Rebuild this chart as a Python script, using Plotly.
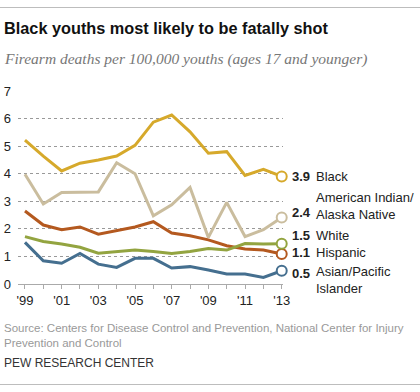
import plotly.graph_objects as go

years = list(range(1999, 2014))
tick_labels = ["'99", "", "'01", "", "'03", "", "'05", "", "'07", "", "'09", "", "'11", "", "'13"]

black = [5.22, 4.64, 4.10, 4.38, 4.50, 4.64, 5.03, 5.87, 6.13, 5.52, 4.74, 4.80, 3.94, 4.16, 3.9]
aian = [3.98, 2.90, 3.32, 3.34, 3.34, 4.40, 4.00, 2.47, 2.87, 3.50, 1.69, 2.96, 1.72, 1.97, 2.41]
white = [1.72, 1.54, 1.45, 1.33, 1.12, 1.18, 1.23, 1.18, 1.11, 1.18, 1.29, 1.23, 1.47, 1.45, 1.46]
hispanic = [2.65, 2.14, 1.97, 2.07, 1.81, 1.93, 2.07, 2.26, 1.85, 1.75, 1.60, 1.39, 1.27, 1.23, 1.09]
asian = [1.51, 0.84, 0.75, 1.11, 0.72, 0.60, 0.93, 0.93, 0.58, 0.63, 0.51, 0.36, 0.36, 0.24, 0.48]

series_names = ["Black", "American Indian/<br>Alaska Native", "White", "Hispanic", "Asian/Pacific<br>Islander"]
series_values = [black, aian, white, hispanic, asian]
end_labels = ["3.9", "2.4", "1.5", "1.1", "0.5"]
label_y = [3.9, 2.58, 1.75, 1.13, 0.38]
name_y = [3.9, 2.82, 1.75, 1.13, 0.14]
colors = ["#d6a92b", "#cabd9e", "#93a440", "#b4591f", "#456f8f"]

fig = go.Figure()
draw_order = [1, 0, 3, 2, 4]
for i in draw_order:
    vals = series_values[i]
    fig.add_trace(go.Scatter(
        x=years, y=vals, mode="lines",
        line=dict(color=colors[i], width=3),
        hoverinfo="skip", showlegend=False, cliponaxis=False))
    fig.add_trace(go.Scatter(
        x=[years[-1]], y=[vals[-1]], mode="markers",
        marker=dict(symbol="circle", size=10, color="white",
                    line=dict(color=colors[i], width=2)),
        hoverinfo="skip", showlegend=False, cliponaxis=False))

L, T, W, H = 18, 91, 265, 193
def px(x):
    return (x - L) / W
def py(y):
    return (T + H - y) / H

ann = []
for i in range(5):
    ann.append(dict(xref="paper", yref="y", x=px(290), y=label_y[i], text="<b>" + end_labels[i] + "</b>",
                    xanchor="left", yanchor="middle", showarrow=False,
                    font=dict(family="Liberation Sans, Arial", size=13, color="#222")))
    ann.append(dict(xref="paper", yref="y", x=px(314), y=name_y[i], text=series_names[i],
                    xanchor="left", yanchor="middle", showarrow=False, align="left",
                    font=dict(family="Liberation Sans, Arial", size=13, color="#222")))

ann.append(dict(xref="paper", yref="paper", x=px(2), y=py(28), text="<b>Black youths most likely to be fatally shot</b>",
                xanchor="left", yanchor="middle", showarrow=False,
                font=dict(family="Liberation Sans, Arial", size=16.3, color="#111")))
ann.append(dict(xref="paper", yref="paper", x=px(2), y=py(59), text="<i>Firearm deaths per 100,000 youths (ages 17 and younger)</i>",
                xanchor="left", yanchor="middle", showarrow=False,
                font=dict(family="Liberation Serif, Georgia, serif", size=15.5, color="#777")))
ann.append(dict(xref="paper", yref="paper", x=px(2), y=py(335),
                text="Source: Centers for Disease Control and Prevention, National Center for Injury<br>Prevention and Control",
                xanchor="left", yanchor="middle", showarrow=False, align="left",
                font=dict(family="Liberation Sans, Arial", size=11.5, color="#999")))
ann.append(dict(xref="paper", yref="paper", x=px(2), y=py(363), text="PEW RESEARCH CENTER",
                xanchor="left", yanchor="middle", showarrow=False,
                font=dict(family="Liberation Sans Narrow, Liberation Sans, Arial", size=12, color="#333")))

fig.update_layout(
    width=420, height=392,
    margin=dict(l=L, r=420 - L - W, t=T, b=392 - T - H, pad=0, autoexpand=False),
    plot_bgcolor="white", paper_bgcolor="white",
    annotations=ann,
    xaxis=dict(range=[1998.62, 2013.07], tickvals=years, ticktext=tick_labels, automargin=False,
               ticks="outside", ticklen=4, tickcolor="#aaa", showline=True, linecolor="#aaa",
               showgrid=False, zeroline=False, fixedrange=True,
               tickfont=dict(family="Liberation Sans, Arial", size=13, color="#222")),
    yaxis=dict(range=[0, 7], tickvals=[0, 1, 2, 3, 4, 5, 6, 7], showgrid=True, automargin=False,
               gridcolor="#999", griddash="dot", gridwidth=1, zeroline=False, showline=False,
               ticks="", ticklabelstandoff=6, fixedrange=True,
               tickfont=dict(family="Liberation Sans, Arial", size=13, color="#222")),
)

post = (
    "document.body.style.margin='0';document.body.style.overflow='hidden';"
    "[7,384].forEach(function(t){var d=document.createElement('div');"
    "d.style.cssText='position:absolute;left:0;top:'+t+'px;width:420px;height:1px;"
    "background:#bdbdbd;z-index:10;pointer-events:none';document.body.appendChild(d);});"
)
fig.write_html("out.html", config={"displayModeBar": False}, post_script=post)
